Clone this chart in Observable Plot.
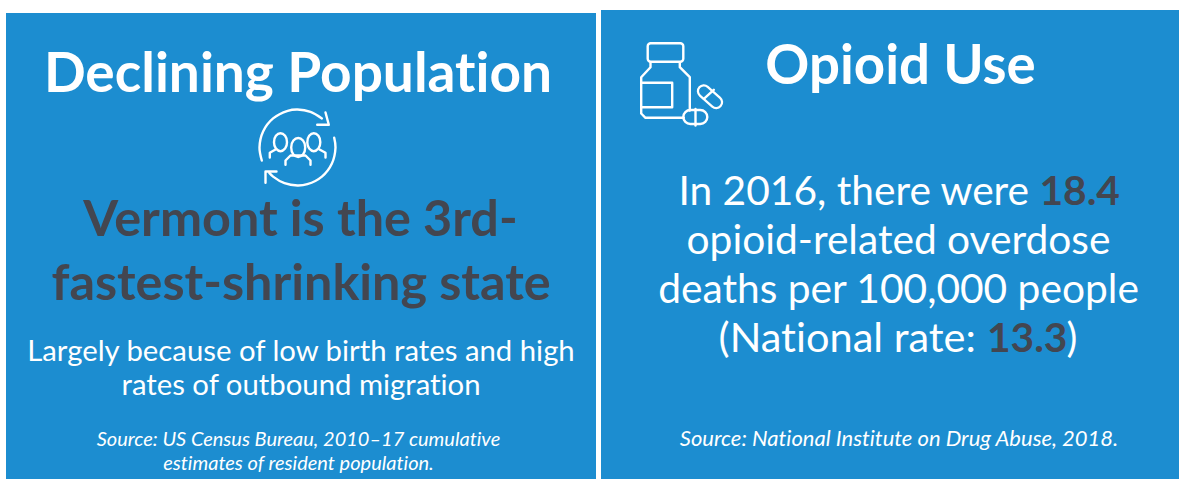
<!DOCTYPE html>
<html><head><meta charset="utf-8">
<script src="https://cdn.jsdelivr.net/npm/d3@7"></script>
<script src="https://cdn.jsdelivr.net/npm/@observablehq/plot@0.6"></script>
<style>html,body{margin:0;padding:0;background:#fff}svg{display:block;font-family:Lato;font-variant-ligatures:none}svg text{font-variant-ligatures:none}</style>
</head><body><div id="chart"></div>
<script>
const leftTitle = "Declining Population";
const leftHeadline = ["Vermont is the 3rd-", "fastest-shrinking state"];
const leftBody = ["Largely because of low birth rates and high", "rates of outbound migration"];
const leftSource = ["Source: US Census Bureau, 2010–17 cumulative", "estimates of resident population."];
const rightTitle = "Opioid Use";
const rightBodyLead = "In 2016, there were ";
const vermontRate = "18.4";
const rightBody = ["opioid-related overdose", "deaths per 100,000 people"];
const nationalLead = "(National rate: ";
const nationalRate = "13.3";
const nationalTail = ")";
const rightSource = "Source: National Institute on Drug Abuse, 2018.";

const blue = "#1c8dd0", dark = "#434650", white = "#fff";

// icon outlines, in picture coordinates
const arcA = [[261.3,160],[259,147],[262.6,131],[272.6,117.9],[287.2,110.3],[297,109],[310,111.3],[321.4,117.9]];
const headA = [[325,112],[328.3,124.3],[316.7,124.3]];
const arcB = [[333.7,137.2],[335,147],[331.4,163],[321.4,176.1],[306.8,183.7],[297,185],[284,182.7],[272.6,176.1],[268.8,172.4]];
const headB = [[265,182.3],[265,171],[276,171]];
const headMid = [[297.7,137.5],[302.5,140],[304.7,147],[302.5,154],[297.7,156.5],[292.9,154],[290.7,147],[292.9,140]];
const headL = [[280,132.7],[284.6,135.3],[286.5,141.7],[284.6,148.1],[280,150.7],[275.4,148.1],[273.5,141.7],[275.4,135.3]];
const headR = [[313.3,132.7],[317.9,135.3],[319.8,141.7],[317.9,148.1],[313.3,150.7],[308.7,148.1],[306.8,141.7],[308.7,135.3]];
const bodyMid = [[285,164.3],[285,160],[290,155],[305,155],[310,160],[310,164.3]];
const shoulderL = [[269.3,157],[269.3,152.3],[275,149]];
const shoulderR = [[325,157],[325,152.3],[319,149]];
const bottleL = [[650,61.7],[650,66.7],[640.7,76.7],[640.7,113],[645,117.3],[683.3,117.3]];
const bottleR = [[679.3,61.7],[679.3,66.7],[689.3,76.7],[689.3,110]];
const bottleLabel = [[640.7,82.3],[671.7,82.3],[671.7,106.7],[640.7,106.7]];
const pillAxis = [[703.3,90.7],[715.7,101.7]];
const pillBar = [[703.3,98.3],[713.3,89.3]];
const pill2Bar = [[695,108.5],[695,125]];

const X = d => d[0], Y = d => d[1];
const stroke = (pts, o = {}) => Plot.line(pts, {x: X, y: Y, stroke: white, strokeWidth: 2.4, strokeLinejoin: "round", strokeLinecap: "round", ...o});
const t = (s, x, y, size, o = {}) => Plot.text([s], {x: () => x, y: () => y, text: d => d, fontSize: size, fill: white, lineAnchor: "bottom", textAnchor: "middle", ...o});
const box = (x1, x2, y1, y2, o = {}) => Plot.rect([0], {x1: () => x1, x2: () => x2, y1: () => y1, y2: () => y2, ...o});

const plot = Plot.plot({
  width: 1179, height: 479, margin: 0,
  style: {background: "#fff", fontFamily: "Lato"},
  x: {domain: [0, 1179], range: [0, 1179], axis: null},
  y: {domain: [0, 479], range: [0, 479], axis: null},
  marks: [
    box(6, 596, 13, 479, {fill: blue}),
    box(601, 1179, 10, 479, {fill: blue}),
    t(leftTitle, 297.5, 91, 55, {fontWeight: 700}),
    t(leftHeadline[0], 300, 235, 50.3, {fontWeight: 700, fill: dark}),
    t(leftHeadline[1], 300.5, 299, 50.3, {fontWeight: 700, fill: dark}),
    t(leftBody[0], 300.5, 360, 29.3),
    t(leftBody[1], 300.5, 394, 29.3),
    t(leftSource[0], 298, 445, 20, {fontStyle: "italic"}),
    t(leftSource[1], 298, 469, 20, {fontStyle: "italic"}),
    t(rightTitle, 900, 83, 54.6, {fontWeight: 700}),
    t(rightBodyLead, 1039, 204, 40.7, {textAnchor: "end"}),
    t(vermontRate, 1039, 204, 40.7, {textAnchor: "start", fontWeight: 700, fill: dark}),
    t(rightBody[0], 898, 253, 40.7),
    t(rightBody[1], 898, 302.5, 40.7),
    t(nationalLead, 986, 351.5, 41.5, {textAnchor: "end"}),
    t(nationalRate, 986.5, 351.5, 40.7, {textAnchor: "start", fontWeight: 700, fill: dark}),
    t(nationalTail, 1066, 351.5, 40.7, {textAnchor: "start"}),
    t(rightSource, 898.5, 445, 22, {fontStyle: "italic"}),
    stroke(arcA, {curve: "catmull-rom"}), stroke(headA),
    stroke(arcB, {curve: "catmull-rom"}), stroke(headB),
    stroke(shoulderL), stroke(shoulderR),
    stroke(headL, {curve: "catmull-rom-closed"}), stroke(headR, {curve: "catmull-rom-closed"}),
    stroke(headMid, {curve: "catmull-rom-closed", fill: blue}),
    stroke(bodyMid),
    box(647.7, 683.3, 43.3, 61.7, {stroke: white, strokeWidth: 2.4, rx: 3}),
    stroke(bottleL), stroke(bottleR), stroke(bottleLabel),
    stroke(pillAxis, {strokeWidth: 14}), stroke(pillAxis, {strokeWidth: 9.5, stroke: blue}), stroke(pillBar),
    box(683.3, 707.3, 110, 124, {stroke: white, strokeWidth: 2.4, rx: 7}),
    stroke(pill2Bar)
  ]
});
document.getElementById("chart").append(plot);
</script></body></html>
